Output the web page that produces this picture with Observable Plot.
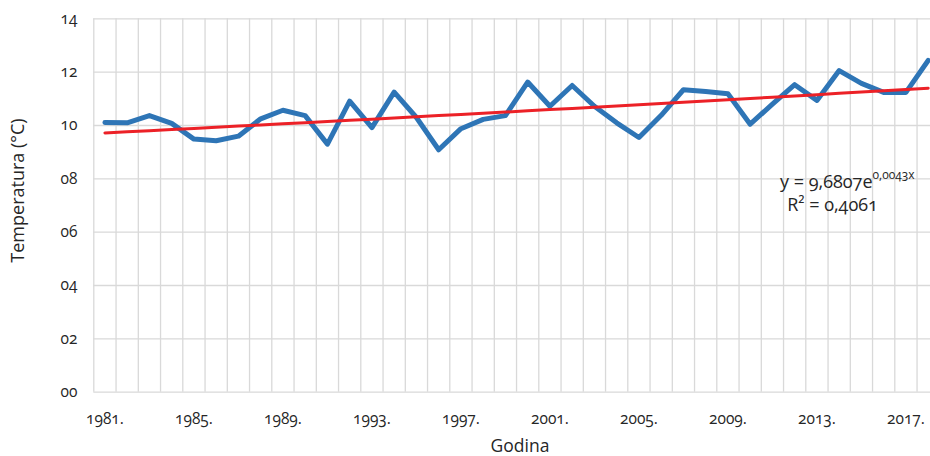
<!DOCTYPE html>
<html><head><meta charset="utf-8">
<script src="https://cdn.jsdelivr.net/npm/d3@7"></script>
<script src="https://cdn.jsdelivr.net/npm/@observablehq/plot@0.6"></script>
<style>
body{margin:0;background:#fff;}
#chart svg{display:block;overflow:hidden;}
</style></head><body><div id="chart"></div>
<script>
const years = [1981,1982,1983,1984,1985,1986,1987,1988,1989,1990,1991,1992,1993,1994,1995,1996,1997,1998,1999,2000,2001,2002,2003,2004,2005,2006,2007,2008,2009,2010,2011,2012,2013,2014,2015,2016,2017,2018];
const temps = [10.11,10.10,10.37,10.08,9.49,9.43,9.60,10.25,10.57,10.37,9.30,10.91,9.92,11.25,10.30,9.09,9.88,10.23,10.37,11.63,10.72,11.50,10.72,10.10,9.55,10.38,11.34,11.27,11.19,10.05,10.80,11.53,10.94,12.06,11.58,11.24,11.24,12.44];
const xTicks = [1981,1985,1989,1993,1997,2001,2005,2009,2013,2017];
const yTicks = [0,2,4,6,8,10,12,14];
const trendA = 9.6807, trendB = 0.0043;
const eqMain = "y = 9,6807e", eqExp = "0,0043x", eqR2 = "R² = 0,4061";
const xLabel = "Godina", yLabel = "Temperatura (°C)";

// annotation anchor positions (data space)
const eqPos = {x: 2015.5, y: 7.88};
const r2Pos = {x: 2013.7, y: 7.02};

const data = years.map((year, i) => ({year, temp: temps[i]}));
const trend = years.map((year, i) => ({year, temp: trendA * Math.exp(trendB * (i + 1))}));
const gridX = years.map(y => y - 0.5).concat([years[years.length - 1] + 0.5]);

const font = "'Open Sans', sans-serif";
const plot = Plot.plot({
  width: 930, height: 456,
  marginLeft: 93, marginRight: 0, marginTop: 18, marginBottom: 64,
  x: {domain: [1980.5, 2018.5], range: [93.3, 938.8]},
  y: {domain: [0, 14], range: [391.7, 18.3]},
  style: {fontFamily: font, fontSize: "15px", color: "#262626", background: "#fff", fontVariantNumeric: "oldstyle-nums", fontFeatureSettings: "'onum' 1"},
  marks: [
    Plot.ruleX(gridX, {stroke: "#d9d9d9", strokeWidth: 1.3, y1: 0, y2: 14}),
    Plot.ruleY(yTicks, {stroke: "#d9d9d9", strokeWidth: 1.3, x1: 1980.5, x2: 2018.5}),
    Plot.axisX({ticks: xTicks, tickFormat: d => d + ".", tickSize: 0, tickPadding: 20, label: null, fontSize: 15.5}),
    Plot.axisY({ticks: yTicks, tickFormat: d3.format("02d"), tickSize: 0, tickPadding: 16, label: null, fontSize: 15.5}),
    Plot.line(data, {x: "year", y: "temp", stroke: "#2E75B6", strokeWidth: 5, strokeLinejoin: "round", strokeLinecap: "round"}),
    Plot.line(trend, {x: "year", y: "temp", stroke: "#EC2127", strokeWidth: 3}),
    Plot.text([yLabel], {frameAnchor: "left", dx: -75, dy: -15, rotate: -90, text: d => d, fontSize: 18, textAnchor: "middle", lineAnchor: "middle"}),
    Plot.text([xLabel], {frameAnchor: "bottom", dx: 8, dy: 54, text: d => d, fontSize: 17.5, textAnchor: "middle", lineAnchor: "middle"}),
    Plot.text([eqMain], {x: () => eqPos.x, y: () => eqPos.y, text: d => d, textAnchor: "end", fontSize: 18}),
    Plot.text([eqExp], {x: () => eqPos.x, y: () => eqPos.y, text: d => d, textAnchor: "start", fontSize: 12, dy: -7}),
    Plot.text([eqR2], {x: () => r2Pos.x, y: () => r2Pos.y, text: d => d, fontSize: 18})
  ]
});
document.getElementById("chart").append(plot);
</script></body></html>
